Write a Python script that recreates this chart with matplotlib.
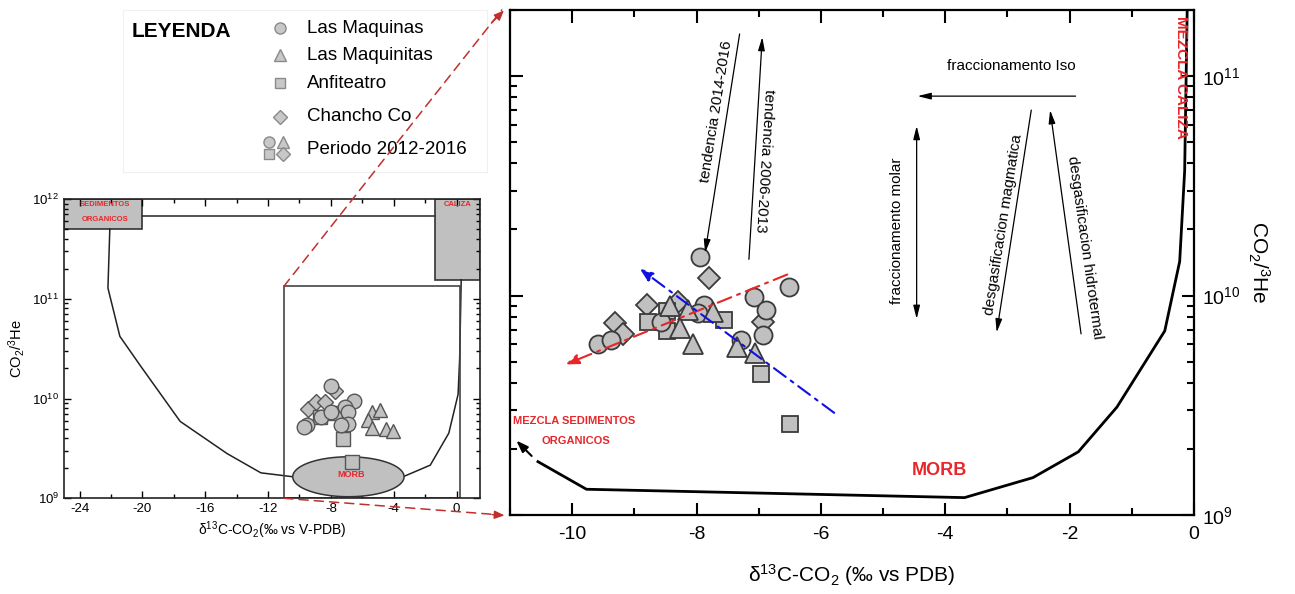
import numpy as np
import matplotlib
matplotlib.use('Agg')
import matplotlib.pyplot as plt
from matplotlib.patches import Rectangle, ConnectionPatch
from matplotlib.ticker import LogLocator, MultipleLocator, NullFormatter, LogFormatterSciNotation

plt.rcParams['font.family'] = ['Liberation Sans', 'DejaVu Sans']
plt.rcParams['mathtext.fontset'] = 'custom'
plt.rcParams['mathtext.rm'] = 'Liberation Sans'
plt.rcParams['mathtext.it'] = 'Liberation Sans:italic'
plt.rcParams['mathtext.bf'] = 'Liberation Sans:bold'
plt.rcParams['axes.unicode_minus'] = False

# ---- muestras (d13C, CO2/3He), grafico ampliado ----
maq_x = [-7.95, -9.58, -9.38, -8.57, -7.88, -7.98, -7.08, -6.51, -6.88, -6.93, -7.29]
maq_y = [1.50e10, 6.0e9, 6.3e9, 7.6e9, 9.1e9, 8.3e9, 9.8e9, 1.09e10, 8.6e9, 6.6e9, 6.3e9]
maqt_x = [-8.42, -8.13, -8.27, -8.06, -7.74, -7.35, -7.06]
maqt_y = [9.0e9, 8.6e9, 7.1e9, 6.0e9, 8.4e9, 5.8e9, 5.5e9]
anf_x = [-8.78, -8.47, -8.47, -7.56, -6.96, -6.49]
anf_y = [7.6e9, 8.5e9, 6.9e9, 7.7e9, 4.4e9, 2.6e9]
cha_x = [-7.80, -8.80, -9.31, -9.19, -8.29, -6.93]
cha_y = [1.2e10, 9.1e9, 7.5e9, 6.7e9, 9.3e9, 7.6e9]

# curva de mezcla MORB - caliza
mix_x = [-10.55, -9.77, -3.69, -2.59, -1.86, -1.24, -0.47, -0.23, -0.15, -0.11]
mix_y = [1.75e9, 1.31e9, 1.2e9, 1.48e9, 1.94e9, 3.1e9, 6.9e9, 1.43e10, 3.7e10, 1.95e11]

# tendencias
red_trend = [(-6.5, 1.26e10), (-10.15, 4.8e9)]
blue_trend = [(-5.75, 2.87e9), (-8.95, 1.35e10)]

# ---- grafico general (V-PDB) ----
in_maq_x = [-7.97, -6.56, -9.5, -9.7, -8.64, -7.97, -7.1, -6.9, -6.9, -7.33]
in_maq_y = [1.34e10, 9.5e9, 5.4e9, 5.2e9, 6.5e9, 7.4e9, 8.2e9, 7.4e9, 5.6e9, 5.4e9]
in_maqt_x = [-5.4, -4.88, -5.64, -5.36, -4.46, -4.03]
in_maqt_y = [7.4e9, 7.6e9, 6.1e9, 5.1e9, 5.0e9, 4.7e9]
in_cha_x = [-9.47, -8.94, -7.76, -8.4]
in_cha_y = [7.8e9, 9.2e9, 1.2e10, 9.2e9]
in_anf_x = [-8.72, -7.22, -6.68, -7.76]
in_anf_y = [6.6e9, 3.9e9, 2.3e9, 7.1e9]

curve_l_x = [-22.08, -22.2, -21.44, -20.15, -17.6, -14.6, -12.46, -10.5]
curve_l_y = [5e11, 1.28e11, 4.2e10, 2.15e10, 5.9e9, 2.8e9, 1.8e9, 1.65e9]
curve_r_x = [-3.38, -1.67, -0.49, 0.1, 0.2, 0.3]
curve_r_y = [1.65e9, 2.15e9, 4.5e9, 1.1e10, 2.5e10, 1.55e11]

legend_labels = ['Las Maquinas', 'Las Maquinitas', 'Anfiteatro', 'Chancho Co', 'Periodo 2012-2016']

FILL = '#c0c0c0'
EDGE = '#3a3a3a'
RED = '#e8262a'

fig = plt.figure(figsize=(12.95, 5.94), dpi=100)


def style_log_axes(a, major_len, minor_len, width):
    a.tick_params(which='both', direction='in', top=True, right=True, width=width)
    a.tick_params(which='major', length=major_len)
    a.tick_params(which='minor', length=minor_len)


# ================= grafico principal =================
ax = fig.add_axes([0.3938, 0.1330, 0.5282, 0.8502])
ax.set_yscale('log')
ax.set_xlim(-11, 0)
ax.set_ylim(1e9, 2e11)
ax.xaxis.set_major_locator(MultipleLocator(2))
ax.xaxis.set_minor_locator(MultipleLocator(1))
ax.yaxis.set_major_locator(LogLocator(base=10))
ax.yaxis.set_minor_locator(LogLocator(base=10, subs=np.arange(2, 10)))
ax.yaxis.set_major_formatter(LogFormatterSciNotation())
ax.yaxis.set_minor_formatter(NullFormatter())
style_log_axes(ax, 9, 5, 1.5)
ax.tick_params(labelleft=False, labelright=True, labelsize=14, pad=6)
for s in ax.spines.values():
    s.set_linewidth(1.6)

mk = dict(markerfacecolor=FILL, markeredgecolor=EDGE, markeredgewidth=1.3, linestyle='none')
ax.plot(cha_x, cha_y, marker='D', ms=11, **mk)
ax.plot(anf_x, anf_y, marker='s', ms=12, **mk)
ax.plot(maq_x, maq_y, marker='o', ms=13, **mk)
ax.plot(maqt_x, maqt_y, marker='^', ms=14, **mk)

ax.plot(mix_x, mix_y, color='black', lw=2)
ax.annotate('', xy=(-10.93, 2.23e9), xytext=(-10.62, 1.82e9),
            arrowprops=dict(arrowstyle='-|>,head_length=0.7,head_width=0.25', color='black', lw=1.5))

ax.annotate('', xy=red_trend[1], xytext=red_trend[0],
            arrowprops=dict(arrowstyle='-|>,head_length=0.8,head_width=0.3', color=RED, lw=1.5,
                            linestyle=(0, (7, 3, 1.5, 3))))
ax.annotate('', xy=blue_trend[1], xytext=blue_trend[0],
            arrowprops=dict(arrowstyle='-|>,head_length=0.8,head_width=0.3', color='#1010e0', lw=1.5,
                            linestyle=(0, (7, 3, 1.5, 3))))

arw = dict(arrowstyle='-|>,head_length=0.8,head_width=0.2', color='black', lw=0.9)
ax.annotate('', xy=(-7.87, 1.52e10), xytext=(-7.30, 1.6e11), arrowprops=arw)
ax.annotate('', xy=(-6.94, 1.55e11), xytext=(-7.16, 1.42e10), arrowprops=arw)
ax.annotate('', xy=(-4.49, 8.1e10), xytext=(-1.86, 8.1e10), arrowprops=arw)
ax.annotate('', xy=(-4.46, 6.1e10), xytext=(-4.46, 7.6e9),
            arrowprops=dict(arrowstyle='<|-|>,head_length=0.8,head_width=0.2', color='black', lw=0.9))
ax.annotate('', xy=(-3.18, 6.6e9), xytext=(-2.61, 7.2e10), arrowprops=arw)
ax.annotate('', xy=(-2.32, 7.2e10), xytext=(-1.81, 6.5e9), arrowprops=arw)

tk = dict(fontsize=11, ha='center', va='center', rotation_mode='anchor')
ax.text(-7.68, 6.9e10, 'tendencia 2014-2016', rotation=81, **tk)
ax.text(-6.90, 4.1e10, 'tendencia 2006-2013', rotation=-93.5, **tk)
ax.text(-2.93, 1.11e11, 'fraccionamento Iso', rotation=0, **tk)
ax.text(-4.78, 1.97e10, 'fraccionamento molar', rotation=90, **tk)
ax.text(-3.07, 2.1e10, 'desgasificacion magmatica', rotation=81, **tk)
ax.text(-1.76, 1.66e10, 'desgasificacion hidrotermal', rotation=-82, **tk)

ax.text(-10.95, 2.68e9, 'MEZCLA SEDIMENTOS', color=RED, fontsize=8, fontweight='bold', ha='left', va='center')
ax.text(-9.94, 2.17e9, 'ORGANICOS', color=RED, fontsize=8, fontweight='bold', ha='center', va='center')
ax.text(-4.09, 1.6e9, 'MORB', color=RED, fontsize=13, fontweight='bold', ha='center', va='center')
ax.text(-0.21, 9.9e10, 'MEZCLA CALIZA', color=RED, fontsize=11, fontweight='bold',
        rotation=-90, ha='center', va='center')

ax.set_xlabel('δ$^{13}$C-CO$_2$ (‰ vs PDB)', fontsize=15, labelpad=14)
ax.tick_params(axis='x', labelsize=14, pad=8)
ax.yaxis.set_label_position('right')
ax.set_ylabel('CO$_2$/$^3$He', fontsize=15, rotation=270, labelpad=22)

# ================= grafico general =================
axi = fig.add_axes([0.0494, 0.1611, 0.3213, 0.5039])
axi.set_yscale('log')
axi.set_xlim(-25, 1.5)
axi.set_ylim(1e9, 1e12)
axi.xaxis.set_major_locator(MultipleLocator(4))
axi.xaxis.set_minor_locator(MultipleLocator(2))
axi.yaxis.set_major_locator(LogLocator(base=10))
axi.yaxis.set_minor_locator(LogLocator(base=10, subs=np.arange(2, 10)))
axi.yaxis.set_major_formatter(LogFormatterSciNotation())
axi.yaxis.set_minor_formatter(NullFormatter())
style_log_axes(axi, 5, 3, 1.0)
axi.tick_params(labelsize=9.5)
for s in axi.spines.values():
    s.set_linewidth(1.2)
    s.set_color('#222222')

box = dict(facecolor=FILL, edgecolor='#333333', lw=1.2)
axi.add_patch(Rectangle((-25, 5e11), 5, 5e11, **box))
axi.add_patch(Rectangle((-1.4, 1.55e11), 2.9, 1e12 - 1.55e11, **box))
axi.plot([-20, -1.4], [6.8e11, 6.8e11], color='#333333', lw=1.2)
axi.plot(curve_l_x, curve_l_y, color='#222222', lw=1.1)
axi.plot(curve_r_x, curve_r_y, color='#222222', lw=1.1)

t = np.linspace(0, 2 * np.pi, 200)
axi.fill(-6.885 + 3.545 * np.cos(t), 10 ** (9.216 + 0.2 * np.sin(t)),
         facecolor=FILL, edgecolor='#333333', lw=1.1, zorder=3)
axi.add_patch(Rectangle((-11, 1e9), 11.25, 1.33e11 - 1e9, fill=False, edgecolor='#444444', lw=1.2, zorder=2))

mki = dict(markerfacecolor=FILL, markeredgecolor='#555555', markeredgewidth=1.0, linestyle='none', zorder=4)
axi.plot(in_cha_x, in_cha_y, marker='D', ms=8.5, **mki)
axi.plot(in_anf_x, in_anf_y, marker='s', ms=9.5, **mki)
axi.plot(in_maq_x, in_maq_y, marker='o', ms=10.5, **mki)
axi.plot(in_maqt_x, in_maqt_y, marker='^', ms=10.5, **mki)

axi.text(-22.4, 8.9e11, 'SEDIMENTOS', color=RED, fontsize=5.5, fontweight='bold', ha='center', va='center')
axi.text(-22.4, 6.2e11, 'ORGANICOS', color=RED, fontsize=5.5, fontweight='bold', ha='center', va='center')
axi.text(0.05, 8.9e11, 'CALIZA', color=RED, fontsize=5.5, fontweight='bold', ha='center', va='center')
axi.text(-6.74, 1.75e9, 'MORB', color=RED, fontsize=6.5, fontweight='bold', ha='center', va='center', zorder=5)

axi.set_xlabel('δ$^{13}$C-CO$_2$(‰ vs V-PDB)', fontsize=10, labelpad=3)
axi.set_ylabel('CO$_2$/$^3$He', fontsize=10.5, labelpad=4)

# lineas de ampliacion
dash = dict(color='#c0302f', lw=1.1, linestyle=(0, (6, 4)))
for ya, yb in [(1.33e11, 1.0), (1e9, 0.0)]:
    cp = ConnectionPatch(xyA=(-11, ya), coordsA=axi.transData, xyB=(-0.012, yb), coordsB=ax.transAxes, **dash)
    fig.add_artist(cp)
ax.annotate('', xy=(-0.006, 1.003), xycoords='axes fraction', xytext=(-0.03, 0.97), textcoords='axes fraction',
            arrowprops=dict(arrowstyle='-|>,head_length=0.6,head_width=0.25', color='#c0302f', lw=1.0),
            annotation_clip=False)
ax.annotate('', xy=(-0.004, -0.001), xycoords='axes fraction', xytext=(-0.03, 0.001), textcoords='axes fraction',
            arrowprops=dict(arrowstyle='-|>,head_length=0.6,head_width=0.25', color='#c0302f', lw=1.0),
            annotation_clip=False)

# ================= leyenda =================
axl = fig.add_axes([0.095, 0.7104, 0.281, 0.2727])
axl.set_xlim(0, 1)
axl.set_ylim(0, 1)
axl.set_xticks([])
axl.set_yticks([])
for s in axl.spines.values():
    s.set_color('#f0f0f0')
    s.set_linewidth(0.8)

axl.text(0.025, 0.865, 'LEYENDA', fontsize=15, fontweight='bold', ha='left', va='center')
mkl = dict(markerfacecolor='#c8c8c8', markeredgecolor='#8a8a8a', markeredgewidth=1.0, linestyle='none')
rows = [0.887, 0.722, 0.547, 0.342, 0.136]
axl.plot([0.431], [rows[0]], marker='o', ms=8, **mkl)
axl.plot([0.431], [rows[1]], marker='^', ms=9, **mkl)
axl.plot([0.431], [rows[2]], marker='s', ms=7, **mkl)
axl.plot([0.431], [rows[3]], marker='D', ms=7, **mkl)
axl.plot([0.400], [0.187], marker='o', ms=8, **mkl)
axl.plot([0.439], [0.187], marker='^', ms=8, **mkl)
axl.plot([0.402], [0.111], marker='s', ms=7, **mkl)
axl.plot([0.439], [0.111], marker='D', ms=7, **mkl)
for yy, lab in zip(rows, legend_labels):
    axl.text(0.505, yy, lab, fontsize=13.5, ha='left', va='center')

fig.savefig('out.png', dpi=100)
